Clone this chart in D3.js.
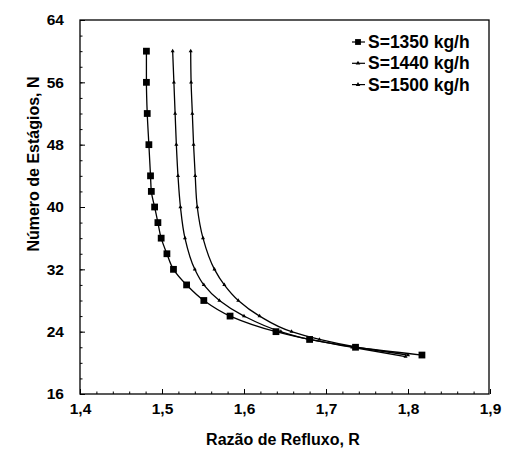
<!DOCTYPE html>
<html><head><meta charset="utf-8">
<script src="https://cdn.jsdelivr.net/npm/d3@7"></script>
<style>body{margin:0;background:#fff}svg{display:block}</style>
</head><body>
<svg id="c" width="505" height="450"></svg>
<script>
const seriesNames = ["S=1350 kg/h", "S=1440 kg/h", "S=1500 kg/h"];
const r1350 = [1.481,1.481,1.482,1.484,1.486,1.487,1.491,1.495,1.499,1.506,1.514,1.530,1.551,1.583,1.639,1.680,1.736,1.817];
const n1350 = [60,56,52,48,44,42,40,38,36,34,32,30,28,26,24,23,22,21];
const r1440 = [1.513,1.5145,1.516,1.5175,1.5195,1.5225,1.528,1.540,1.551,1.570,1.600,1.645,1.680,1.732,1.797];
const n1440 = [60,56,52,48,44,40,36,32,30,28,26,24,23,22,20.8];
const r1500 = [1.535,1.5355,1.537,1.5385,1.5405,1.543,1.550,1.564,1.576,1.593,1.619,1.658,1.692,1.738,1.800];
const n1500 = [60,56,52,48,44,40,36,32,30,28,26,24,23,22,21];
const xTicks = [1.4,1.5,1.6,1.7,1.8,1.9];
const yTicks = [16,24,32,40,48,56,64];

const svg = d3.select("#c");
const x = d3.scaleLinear().domain([1.4,1.9]).range([80,490]);
const y = d3.scaleLinear().domain([16,64]).range([394,20]);
const font = "'Liberation Sans', Arial, sans-serif";
const fmt = d => d3.format(".1f")(d).replace(".", ",");

// frame
svg.append("rect").attr("x",80).attr("y",20).attr("width",409).attr("height",374)
  .attr("fill","none").attr("stroke","#000").attr("stroke-width",1.3);

// axes with inward ticks
const xMinor = d3.range(1.4,1.9001,0.02);
const yMinor = d3.range(16,64.001,2);
const gx = svg.append("g").attr("transform","translate(0,394)");
gx.call(d3.axisTop(x).tickValues(xMinor).tickSize(2.5).tickFormat(""));
gx.call(g=>g.select(".domain").remove());
const gx2 = svg.append("g").attr("transform","translate(0,394)");
gx2.call(d3.axisTop(x).tickValues(xTicks).tickSize(5).tickFormat(""));
gx2.call(g=>g.select(".domain").remove());
const gxl = svg.append("g").attr("transform","translate(0,394)");
gxl.call(d3.axisBottom(x).tickValues(xTicks).tickSize(0).tickPadding(9).tickFormat(fmt));
gxl.call(g=>g.select(".domain").remove());
gxl.selectAll("text").attr("font-family",font).attr("font-size",15.5).attr("font-weight","bold").attr("fill","#000");

const gy = svg.append("g").attr("transform","translate(80,0)");
gy.call(d3.axisRight(y).tickValues(yMinor).tickSize(2.5).tickFormat(""));
gy.call(g=>g.select(".domain").remove());
const gy2 = svg.append("g").attr("transform","translate(80,0)");
gy2.call(d3.axisRight(y).tickValues(yTicks).tickSize(5).tickFormat(""));
gy2.call(g=>g.select(".domain").remove());
const gyl = svg.append("g").attr("transform","translate(80,0)");
gyl.call(d3.axisLeft(y).tickValues(yTicks).tickSize(0).tickPadding(16).tickFormat(d3.format("d")));
gyl.call(g=>g.select(".domain").remove());
gyl.selectAll("text").attr("font-family",font).attr("font-size",15.5).attr("font-weight","bold").attr("fill","#000");

// axis titles
svg.append("text").attr("x",283).attr("y",445).attr("text-anchor","middle")
  .attr("font-family",font).attr("font-size",16).attr("fill","#000").attr("font-weight","bold")
  .text("Razão de Refluxo, R");
svg.append("text").attr("transform","translate(39,164) rotate(-90)").attr("text-anchor","middle")
  .attr("font-family",font).attr("font-size",16).attr("fill","#000").attr("font-weight","bold")
  .text("Número de Estágios, N");

const series = [
  {name: seriesNames[0], r: r1350, n: n1350, sym: d3.symbolSquare, size: 46},
  {name: seriesNames[1], r: r1440, n: n1440, sym: d3.symbolTriangle, size: 7},
  {name: seriesNames[2], r: r1500, n: n1500, sym: d3.symbolTriangle, size: 7}
];
const line = d3.line().x(d=>x(d[0])).y(d=>y(d[1])).curve(d3.curveMonotoneY);
series.forEach(s => {
  const pts = s.r.map((r,i)=>[r, s.n[i]]);
  svg.append("path").attr("d", line(pts)).attr("fill","none").attr("stroke","#000").attr("stroke-width",1.3);
  svg.append("g").selectAll("path").data(pts).join("path")
    .attr("transform", d=>`translate(${x(d[0])},${y(d[1])})`)
    .attr("d", d3.symbol().type(s.sym).size(s.size)).attr("fill","#000");
});

// legend
const lg = svg.append("g");
series.forEach((s,i) => {
  const yy = 42 + i*21.3;
  lg.append("line").attr("x1",352).attr("x2",365).attr("y1",yy).attr("y2",yy).attr("stroke","#000").attr("stroke-width",1.2);
  lg.append("path").attr("transform",`translate(358,${yy})`).attr("d", d3.symbol().type(s.sym).size(i===0?34:9)).attr("fill","#000");
  lg.append("text").attr("x",368).attr("y",yy+6).attr("font-family",font).attr("font-size",17.5)
    .attr("font-weight","bold").attr("fill","#000").text(s.name);
});
</script>
</body></html>
